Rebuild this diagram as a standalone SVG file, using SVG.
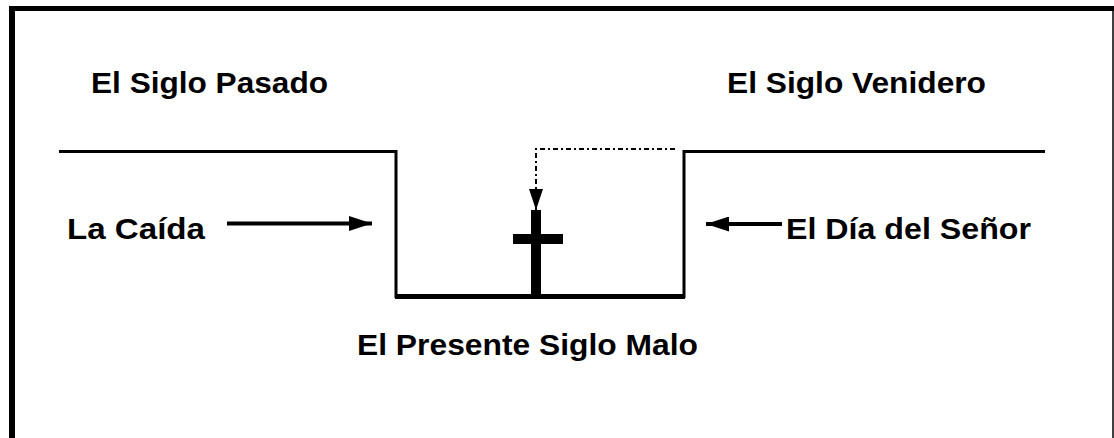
<svg xmlns="http://www.w3.org/2000/svg" width="1114" height="438" viewBox="0 0 1114 438">
<style>
.t{font-family:"Liberation Sans",Arial,sans-serif;font-weight:bold;font-size:30px;fill:#000}
.ln{stroke:#000;fill:none}
</style>
<defs>
<marker id="ah" viewBox="0 0 10 10" preserveAspectRatio="none" refX="10" refY="5" markerWidth="23" markerHeight="15" markerUnits="userSpaceOnUse" orient="auto">
<path d="M0,0 L10,5 L0,10 z" fill="#000"/>
</marker>
<marker id="ah2" viewBox="0 0 10 10" preserveAspectRatio="none" refX="10" refY="5" markerWidth="21" markerHeight="14" markerUnits="userSpaceOnUse" orient="auto">
<path d="M0,0 L10,5 L0,10 z" fill="#000"/>
</marker>
</defs>
<rect width="1114" height="438" fill="#fff"/>
<g id="frame">
<line class="ln" x1="9" y1="8.5" x2="1114" y2="8.5" stroke-width="5"/>
<line class="ln" x1="12" y1="6" x2="12" y2="438" stroke-width="6"/>
<line class="ln" x1="1113" y1="6" x2="1113" y2="438" stroke-width="1.5"/>
</g>
<g id="ages">
<path class="ln" d="M59,151.5 H396 V296.5 H684 V151.5 H1045" stroke-width="3"/>
<line class="ln" x1="395" y1="296.5" x2="685" y2="296.5" stroke-width="5"/>
</g>
<g id="cross">
<rect x="531" y="210" width="10" height="87" fill="#000"/>
<rect x="513" y="234" width="50" height="10" fill="#000"/>
</g>
<g id="connectors">
<line class="ln" x1="227" y1="223.5" x2="372" y2="223.5" stroke-width="4" marker-end="url(#ah)"/>
<line class="ln" x1="782" y1="224" x2="706" y2="224" stroke-width="4" marker-end="url(#ah)"/>
<path class="ln" d="M675,149 H536 V210" stroke-width="2" stroke-dasharray="5,3,2,3" marker-end="url(#ah2)"/>
</g>
<g id="labels">
<text class="t" x="91" y="93" textLength="237" lengthAdjust="spacingAndGlyphs">El Siglo Pasado</text>
<text class="t" x="727" y="93" textLength="259" lengthAdjust="spacingAndGlyphs">El Siglo Venidero</text>
<text class="t" x="67" y="239" textLength="138" lengthAdjust="spacingAndGlyphs">La Caída</text>
<text class="t" x="786" y="239" textLength="245" lengthAdjust="spacingAndGlyphs">El Día del Señor</text>
<text class="t" x="357" y="355" textLength="341" lengthAdjust="spacingAndGlyphs">El Presente Siglo Malo</text>
</g>
</svg>
